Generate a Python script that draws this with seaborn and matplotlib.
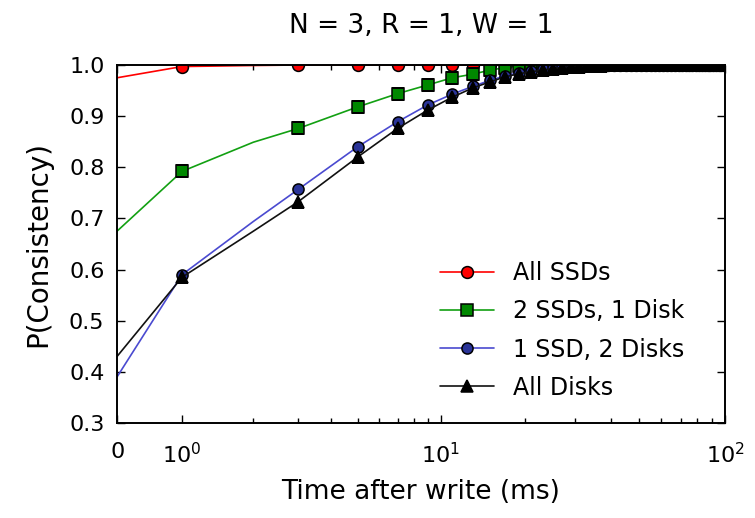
import matplotlib

matplotlib.use("Agg")
import matplotlib.pyplot as plt
import numpy as np
import seaborn as sns
from matplotlib.patches import Polygon
from matplotlib.ticker import FixedLocator, NullFormatter

# sampling grid (ms after write); markers sit on the odd values
time_ms = [0, 1, 2] + list(range(3, 100, 2))


def pad(head):
    # curves saturate at 1.0 for the rest of the range
    return head + [1.0] * (len(time_ms) - len(head))


all_ssds = pad([0.975, 0.997, 0.999])
two_ssds_one_disk = pad([0.675, 0.792, 0.849, 0.876, 0.918, 0.944, 0.961, 0.975,
                         0.982, 0.990, 0.995, 0.998, 0.999])
one_ssd_two_disks = pad([0.390, 0.590, 0.694, 0.757, 0.840, 0.889, 0.922, 0.943,
                         0.958, 0.970, 0.979, 0.985, 0.989, 0.992, 0.994, 0.996,
                         0.997, 0.998, 0.999, 0.999])
all_disks = pad([0.430, 0.585, 0.675, 0.733, 0.820, 0.876, 0.912, 0.937, 0.955,
                 0.967, 0.977, 0.983, 0.987, 0.990, 0.993, 0.995, 0.996, 0.997,
                 0.998, 0.999, 0.999])

series_labels = ["All SSDs", "2 SSDs, 1 Disk", "1 SSD, 2 Disks", "All Disks"]
x_tick_values = [0, 1, 10, 100]
x_tick_labels = ["$0$", "$10^0$", "$10^1$", "$10^2$"]
y_tick_values = [0.3, 0.4, 0.5, 0.6, 0.7, 0.8, 0.9, 1.0]

sns.set_style("ticks")
plt.rcParams["font.family"] = ["DejaVu Sans"]
plt.rcParams["mathtext.default"] = "regular"
for key in ["text.color", "axes.labelcolor", "xtick.color", "ytick.color"]:
    plt.rcParams[key] = "black"

# linear piece on [0, 1], shifted log above it
LIN = 0.226
C = 0.3


def fwd(t):
    t = np.asarray(t, dtype=float)
    return np.where(t < 1, t * LIN, LIN + np.log10((np.maximum(t, 1) + C) / (1 + C)))


def inv(u):
    u = np.asarray(u, dtype=float)
    return np.where(u < LIN, u / LIN, (1 + C) * 10 ** (np.maximum(u, LIN) - LIN) - C)


fig = plt.figure(figsize=(7.55, 5.18), dpi=100)
ax = fig.add_axes([117 / 755, 1 - 423 / 518, 608 / 755, 358 / 518])

odd_idx = [i for i, t in enumerate(time_ms) if t % 2 == 1]

styles = [
    (all_ssds, "#ff0000", "#ff0000", "o", 8.5),
    (two_ssds_one_disk, "#12a012", "#008800", "s", 9),
    (one_ssd_two_disks, "#4a4ad0", "#2a3498", "o", 8),
    (all_disks, "#111111", "#000000", "^", 9),
]

# legend order is also drawing order: the black curve ends up on top
for (values, line_color, face, marker, ms), label in zip(styles, series_labels):
    sns.lineplot(
        x=time_ms,
        y=values,
        ax=ax,
        color=line_color,
        linewidth=1.2,
        marker=marker,
        markersize=ms,
        markerfacecolor=face,
        markeredgecolor="black",
        markeredgewidth=1.1,
        markevery=odd_idx,
        label=label,
    )

ax.set_xscale("function", functions=(fwd, inv))
ax.set_xlim(0, 100)
ax.set_ylim(0.3, 1.0)

ax.xaxis.set_major_locator(FixedLocator(x_tick_values))
ax.set_xticklabels(x_tick_labels)
minor = [2, 3, 4, 5, 6, 7, 8, 9, 20, 30, 40, 50, 60, 70, 80, 90]
ax.xaxis.set_minor_locator(FixedLocator(minor))
ax.xaxis.set_minor_formatter(NullFormatter())
ax.set_yticks(y_tick_values)
ax.set_yticklabels([f"{v:.1f}" for v in y_tick_values])

ax.tick_params(which="both", direction="in", top=True, right=True, labelsize=16,
               color="black", width=1.0)
ax.tick_params(which="major", length=6)
ax.tick_params(axis="x", which="major", pad=14)
ax.tick_params(axis="y", which="major", pad=9)
ax.tick_params(which="minor", length=3.5)
for spine in ax.spines.values():
    spine.set_visible(True)
    spine.set_linewidth(1.4)
    spine.set_color("black")

# Agg only culls markers against a clip box, so use a real clip path
# to cut the markers that sit on the top edge
clip_shape = Polygon([(0, 0), (1, 0), (1, 1), (0, 1)], closed=True,
                     transform=ax.transAxes)
for line in ax.get_lines():
    line.set_clip_path(clip_shape)

ax.set_xlabel("Time after write (ms)", fontsize=19, labelpad=8)
ax.set_ylabel("P(Consistency)", fontsize=20, labelpad=12)
ax.set_title("N = 3, R = 1, W = 1", fontsize=19, pad=23)

ax.legend(
    loc="upper left",
    bbox_to_anchor=(0.531, 0.452),
    frameon=False,
    fontsize=17,
    handlelength=2.3,
    handletextpad=0.8,
    labelspacing=0.6,
    borderpad=0,
    borderaxespad=0,
)

plt.savefig("out.png", dpi=100)
plt.close()
